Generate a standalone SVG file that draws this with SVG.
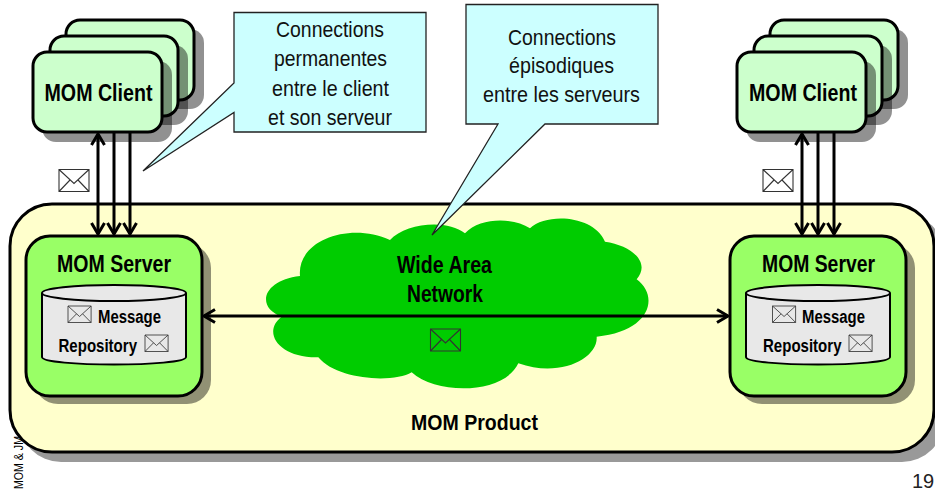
<svg xmlns="http://www.w3.org/2000/svg" width="935" height="492" viewBox="0 0 935 492">
<style>
text{font-family:"Liberation Sans",Arial,sans-serif;fill:#000}
.b{font-weight:700;font-size:23.5px}
.m{font-weight:700;font-size:18px}
.c{font-size:21.5px;fill:#111}
.sh{fill:#000;opacity:.43}
.cl{fill:#ccffcc;stroke:#000;stroke-width:3}
.sv{fill:#99ff66;stroke:#000;stroke-width:3}
.cy{fill:#e8e8e8;stroke:#000;stroke-width:2}
.co{fill:#ccffff;stroke:#222;stroke-width:1.3;stroke-linejoin:miter}
.ar{fill:none;stroke:#000;stroke-width:3}
.ev{fill:none;stroke:#333;stroke-width:1.1}
</style>
<defs>
<marker id="head" markerUnits="userSpaceOnUse" markerWidth="18" markerHeight="20" refX="13" refY="9" orient="auto-start-reverse" viewBox="0 0 18 18">
<path d="M2 2.500L13 9L2 15.500" fill="none" stroke="#000" stroke-width="3"/>
</marker>
<g id="env"><path class="ev" d="M0 0H30V22H0ZM0 0L15 14L30 0M0 22L11 10.500M30 22L19 10.500"/></g>
<g id="stack">
<rect class="sh" x="75" y="29" width="129" height="80" rx="14"/>
<rect class="cl" x="66" y="20" width="128" height="80" rx="14"/>
<rect class="sh" x="59" y="45" width="129" height="80" rx="14"/>
<rect class="cl" x="50" y="36" width="128" height="80" rx="14"/>
<rect class="sh" x="42" y="61" width="130" height="81" rx="14"/>
<rect class="cl" x="33" y="52" width="129" height="80" rx="14"/>
</g>
<g id="srv">
<rect class="sh" x="34" y="244" width="177" height="160" rx="24"/>
<rect class="sv" x="26" y="236" width="176" height="160" rx="24"/>
<path class="cy" d="M42 293V357C42 367 186 367 186 357V293"/>
<ellipse class="cy" cx="114" cy="293" rx="72" ry="8"/>
</g>
</defs>

<text transform="translate(22.500 489) rotate(-90)" font-size="13" textLength="53" lengthAdjust="spacingAndGlyphs">MOM &amp; JM</text>

<g id="product">
<rect x="19" y="213" width="925" height="249" rx="42" fill="#000" opacity=".4"/>
<rect x="10" y="204" width="924" height="248" rx="42" fill="#ffffcc" stroke="#000" stroke-width="3"/>
<text class="b" x="411" y="430" style="font-size:22px" textLength="127" lengthAdjust="spacingAndGlyphs">MOM Product</text>
</g>

<g id="wan">
<path transform="translate(250 200) scale(.33333)" fill="#00cc00" d="M150 228C140 120 300 65 420 120C465 70 590 55 645 100C690 52 790 52 840 85C890 38 1030 45 1065 125C1140 135 1205 185 1160 238C1230 290 1200 395 1040 410C1045 475 930 535 805 490C760 585 560 585 485 517C430 550 260 540 205 472C85 475 35 395 95 350C15 320 40 240 150 228Z"/>
<text class="b" x="397" y="273" textLength="95" lengthAdjust="spacingAndGlyphs">Wide Area</text>
<text class="b" x="407" y="302" textLength="76" lengthAdjust="spacingAndGlyphs">Network</text>
<use href="#env" x="430.500" y="329"/>
</g>

<g id="client-left"><use href="#stack"/>
<text class="b" x="44.500" y="101" textLength="108" lengthAdjust="spacingAndGlyphs">MOM Client</text></g>
<g id="client-right"><use href="#stack" x="704"/>
<text class="b" x="749" y="101" textLength="108" lengthAdjust="spacingAndGlyphs">MOM Client</text></g>

<g id="server-left"><use href="#srv"/>
<text class="b" x="57" y="272" textLength="114" lengthAdjust="spacingAndGlyphs">MOM Server</text>
<use href="#env" transform="translate(68 306) scale(.77 .75)"/>
<text class="m" x="98" y="323" textLength="63" lengthAdjust="spacingAndGlyphs">Message</text>
<text class="m" x="58.500" y="352" textLength="78.500" lengthAdjust="spacingAndGlyphs">Repository</text>
<use href="#env" transform="translate(145 335) scale(.77 .75)"/></g>
<g id="server-right"><use href="#srv" x="704"/>
<text class="b" x="762" y="272" textLength="113" lengthAdjust="spacingAndGlyphs">MOM Server</text>
<use href="#env" transform="translate(772.500 306) scale(.77 .75)"/>
<text class="m" x="802" y="323" textLength="63" lengthAdjust="spacingAndGlyphs">Message</text>
<text class="m" x="763" y="352" textLength="78.500" lengthAdjust="spacingAndGlyphs">Repository</text>
<use href="#env" transform="translate(849 335) scale(.77 .75)"/></g>

<g id="connectors">
<path class="ar" d="M98 134V234" marker-start="url(#head)" marker-end="url(#head)"/>
<path class="ar" d="M114 133V234" marker-end="url(#head)"/>
<path class="ar" d="M130 133V234" marker-end="url(#head)"/>
<path class="ar" d="M802 134V234" marker-start="url(#head)" marker-end="url(#head)"/>
<path class="ar" d="M818 133V234" marker-end="url(#head)"/>
<path class="ar" d="M834 133V234" marker-end="url(#head)"/>
<path class="ar" d="M204 316H728" marker-start="url(#head)" marker-end="url(#head)"/>
</g>

<g id="envelope-left"><use href="#env" x="59" y="169.500"/></g>
<g id="envelope-right"><use href="#env" x="763" y="169.500"/></g>

<g id="callout-permanent">
<path class="co" d="M234 12.500H426V132H234V112.500L143 171L234 83Z"/>
<text class="c" x="276" y="37" textLength="108" lengthAdjust="spacingAndGlyphs">Connections</text>
<text class="c" x="274" y="66" textLength="113" lengthAdjust="spacingAndGlyphs">permanentes</text>
<text class="c" x="272" y="96" textLength="117" lengthAdjust="spacingAndGlyphs">entre le client</text>
<text class="c" x="268" y="125" textLength="124" lengthAdjust="spacingAndGlyphs">et son serveur</text>
</g>
<g id="callout-episodic">
<path class="co" d="M466 4.500H658V124H545L432 235L498 124H466Z"/>
<text class="c" x="508" y="45" textLength="108" lengthAdjust="spacingAndGlyphs">Connections</text>
<text class="c" x="509" y="73" textLength="105" lengthAdjust="spacingAndGlyphs">épisodiques</text>
<text class="c" x="483" y="102" textLength="157" lengthAdjust="spacingAndGlyphs">entre les serveurs</text>
</g>

<text x="912" y="487.500" style="font-size:20px;fill:#222">19</text>
</svg>
